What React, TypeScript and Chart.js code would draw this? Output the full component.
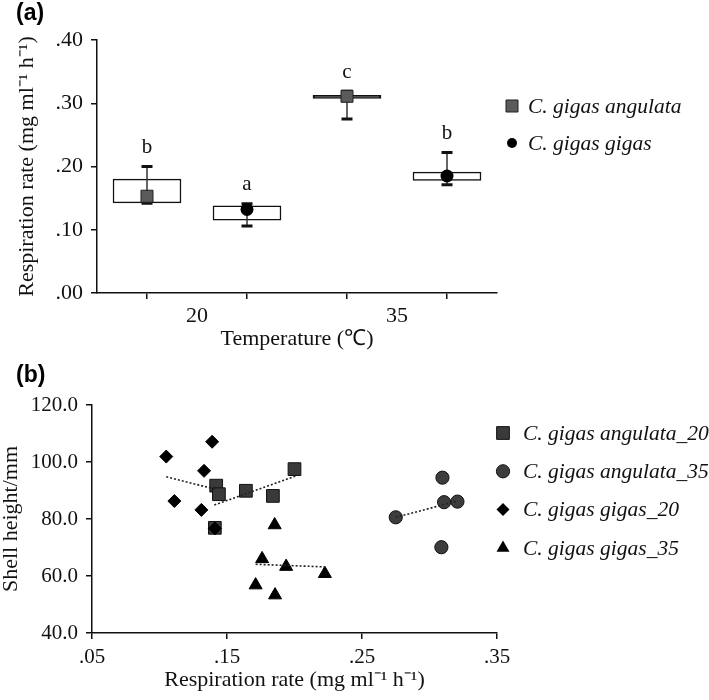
import React, { useEffect, useRef } from 'react';
import { Chart, registerables } from 'chart.js';

Chart.register(...registerables);

const SERIF = "'Liberation Serif', 'Times New Roman', serif";
const SANS = "'Liberation Sans', Arial, sans-serif";

// ---------- Panel (a) data ----------
const temperatures = ['20', '35'];
const speciesA = ['C. gigas angulata', 'C. gigas gigas'];
// order of groups: angulata@20, gigas@20, angulata@35, gigas@35
const boxLow = [0.1425, 0.115, 0.3076, 0.178];
const boxHigh = [0.18, 0.138, 0.3124, 0.191];
const centerVal = [0.153, 0.132, 0.311, 0.185];
const whiskerMin = [0.142, 0.106, 0.275, 0.171];
const whiskerMax = [0.2, 0.141, 0.319, 0.222];
const sigLetters = ['b', 'a', 'c', 'b'];
const yTicksA = [0, 0.1, 0.2, 0.3, 0.4];

// ---------- Panel (b) data ----------
const seriesB = ['C. gigas angulata_20', 'C. gigas angulata_35', 'C. gigas gigas_20', 'C. gigas gigas_35'];
const ang20X = [0.142, 0.144, 0.164, 0.184, 0.2, 0.141];
const ang20Y = [91.7, 88.7, 89.9, 88.1, 97.5, 76.9];
const ang35X = [0.275, 0.3096, 0.3108, 0.3207, 0.3088];
const ang35Y = [80.6, 94.5, 85.9, 86.1, 70.1];
const gig20X = [0.105, 0.139, 0.133, 0.111, 0.131, 0.141];
const gig20Y = [101.9, 107.1, 96.9, 86.3, 83.2, 76.7];
const gig35X = [0.1853, 0.176, 0.1938, 0.2225, 0.1712, 0.1856];
const gig35Y = [77.9, 66.0, 63.3, 60.8, 56.8, 53.3];
// dotted fitted lines, end points
const fitAng20X = [0.1406, 0.201];
const fitAng20Y = [84.9, 95.1];
const fitAng35X = [0.275, 0.3207];
const fitAng35Y = [80.6, 86.3];
const fitGig20X = [0.105, 0.141];
const fitGig20Y = [94.8, 90.5];
const fitGig35X = [0.1712, 0.2225];
const fitGig35Y = [64.1, 63.2];
const xTicksB = [0.05, 0.15, 0.25, 0.35];
const yTicksB = [40, 60, 80, 100, 120];

const RESP_TITLE = 'Respiration rate (mg ml\u207B\u00B9 h\u207B\u00B9)';
const TICK_FONT = 21;
const TITLE_FONT = 22;

const zip = (xs: number[], ys: number[]) => xs.map((x, i) => ({ x, y: ys[i] }));

function drawMarker(ctx: CanvasRenderingContext2D, style: string, x: number, y: number, r: number, fill: string, stroke: string, lw: number) {
  ctx.beginPath();
  if (style === 'rect') {
    const s = r * Math.SQRT1_2;
    ctx.rect(x - s, y - s, 2 * s, 2 * s);
  } else if (style === 'circle') {
    ctx.arc(x, y, r, 0, Math.PI * 2);
  } else if (style === 'rectRot') {
    ctx.moveTo(x - r, y);
    ctx.lineTo(x, y - r);
    ctx.lineTo(x + r, y);
    ctx.lineTo(x, y + r);
    ctx.closePath();
  } else if (style === 'triangle') {
    const h = r * Math.sin(Math.PI / 3);
    ctx.moveTo(x, y - r);
    ctx.lineTo(x + h, y + r / 2);
    ctx.lineTo(x - h, y + r / 2);
    ctx.closePath();
  }
  ctx.fillStyle = fill;
  ctx.fill();
  if (lw > 0) {
    ctx.strokeStyle = stroke;
    ctx.lineWidth = lw;
    ctx.stroke();
  }
}

function legendPlugin(x0: number, textX: number, y0: number, dy: number) {
  return {
    id: 'customLegend',
    afterDraw(chart: any) {
      const ctx: CanvasRenderingContext2D = chart.ctx;
      const items = chart.data.datasets.filter((d: any) => d.legend);
      ctx.save();
      items.forEach((d: any, i: number) => {
        const y = y0 + i * dy;
        drawMarker(ctx, d.pointStyle, x0, y, d.legendRadius ?? d.pointRadius, d.backgroundColor, d.borderColor, d.borderWidth);
        ctx.fillStyle = '#111';
        ctx.font = `italic 21.5px ${SERIF}`;
        ctx.textAlign = 'left';
        ctx.textBaseline = 'middle';
        ctx.fillText(d.label, textX, y + 1);
      });
      ctx.restore();
    },
  };
}

function panelLabel(text: string, x: number, y: number) {
  return {
    id: 'panelLabel',
    afterDraw(chart: any) {
      const ctx: CanvasRenderingContext2D = chart.ctx;
      ctx.save();
      ctx.fillStyle = '#000';
      ctx.font = `bold 23px ${SANS}`;
      ctx.textAlign = 'left';
      ctx.textBaseline = 'middle';
      ctx.fillText(text, x, y);
      ctx.restore();
    },
  };
}

const fmt2 = (v: number) => v.toFixed(2).replace(/^0/, '');

function axisBase(extra: any) {
  return {
    type: 'linear',
    offset: false,
    grid: { drawOnChartArea: false, drawTicks: true, tickLength: 6, color: '#111', lineWidth: 1.5 },
    border: { display: true, color: '#111', width: 1.5 },
    ...extra,
  };
}

function configA(): any {
  const positions = temperatures.flatMap((_, ti) => speciesA.map((__, si) => ti * 2 + si + 0.5));
  const tickLabel: Record<number, string> = {};
  temperatures.forEach((t, ti) => { tickLabel[ti * 2 + 1] = t; });
  const xTickVals = Array.from({ length: temperatures.length * speciesA.length + 1 }, (_, i) => i);

  const whiskers = {
    id: 'whiskers',
    afterDatasetDraw(chart: any, args: any) {
      if (args.meta.type !== 'bar') return;
      const { ctx, scales: { x, y } } = chart;
      ctx.save();
      positions.forEach((p, i) => {
        const px = x.getPixelForValue(p);
        const yMin = y.getPixelForValue(whiskerMin[i]);
        const yMax = y.getPixelForValue(whiskerMax[i]);
        ctx.strokeStyle = '#333';
        ctx.lineWidth = 1.5;
        ctx.beginPath();
        ctx.moveTo(px, yMin);
        ctx.lineTo(px, yMax);
        ctx.stroke();
        ctx.strokeStyle = '#111';
        ctx.lineWidth = 3;
        ctx.beginPath();
        ctx.moveTo(px - 5.5, yMin);
        ctx.lineTo(px + 5.5, yMin);
        ctx.moveTo(px - 5.5, yMax);
        ctx.lineTo(px + 5.5, yMax);
        ctx.stroke();
      });
      ctx.restore();
    },
    afterDraw(chart: any) {
      const { ctx, scales: { x, y } } = chart;
      ctx.save();
      ctx.fillStyle = '#111';
      ctx.font = `21px ${SERIF}`;
      ctx.textAlign = 'center';
      ctx.textBaseline = 'middle';
      positions.forEach((p, i) => {
        ctx.fillText(sigLetters[i], x.getPixelForValue(p), y.getPixelForValue(whiskerMax[i]) - 19);
      });
      ctx.restore();
    },
  };

  const angIdx = [0, 2];
  const gigIdx = [1, 3];

  return {
    type: 'bar',
    data: {
      datasets: [
        {
          type: 'scatter',
          label: speciesA[0],
          legend: true,
          data: angIdx.map((i) => ({ x: positions[i], y: centerVal[i] })),
          pointStyle: 'rect',
          pointRadius: 8.5,
          legendRadius: 8.5,
          backgroundColor: '#5b5b5b',
          borderColor: '#222',
          borderWidth: 1,
          order: 0,
        },
        {
          type: 'scatter',
          label: speciesA[1],
          legend: true,
          data: gigIdx.map((i) => ({ x: positions[i], y: centerVal[i] })),
          pointStyle: 'circle',
          pointRadius: 6.5,
          legendRadius: 5,
          backgroundColor: '#000',
          borderColor: '#000',
          borderWidth: 0,
          order: 0,
        },
        {
          type: 'bar',
          label: 'box',
          data: positions.map((p, i) => ({ x: p, y: [boxLow[i], boxHigh[i]] })),
          // a box whose quartiles (almost) coincide is drawn as a solid thick line
          backgroundColor: (c: any) => (boxHigh[c.dataIndex] - boxLow[c.dataIndex] < 0.006 ? '#111' : '#fff'),
          borderColor: '#111',
          borderWidth: 1.5,
          borderSkipped: false,
          barThickness: 68,
          order: 1,
        },
      ],
    },
    options: {
      responsive: false,
      animation: false,
      events: [],
      layout: { padding: { left: 0, top: 40, right: 212, bottom: 0 } },
      plugins: { legend: { display: false }, tooltip: { enabled: false } },
      scales: {
        x: axisBase({
          min: 0,
          max: xTickVals[xTickVals.length - 1],
          afterFit: (s: any) => { s.height = 67; },
          afterBuildTicks: (s: any) => { s.ticks = xTickVals.map((v) => ({ value: v })); },
          ticks: {
            autoSkip: false,
            maxRotation: 0,
            padding: 4,
            color: '#111',
            font: { family: SERIF, size: TICK_FONT + 1 },
            callback: (v: number) => tickLabel[v] ?? '',
          },
          title: {
            display: true,
            text: 'Temperature (\u2103)',
            color: '#111',
            font: { family: SERIF, size: TITLE_FONT },
            padding: { top: 0, bottom: 8 },
          },
        }),
        y: axisBase({
          min: yTicksA[0],
          max: yTicksA[yTicksA.length - 1],
          afterFit: (s: any) => { s.width = 97; },
          afterBuildTicks: (s: any) => { s.ticks = yTicksA.map((v) => ({ value: v })); },
          ticks: {
            padding: 8,
            color: '#111',
            font: { family: SERIF, size: TICK_FONT + 1 },
            callback: (v: number) => fmt2(v),
          },
          title: {
            display: true,
            text: RESP_TITLE,
            color: '#111',
            font: { family: SERIF, size: TITLE_FONT },
            padding: { top: 14, bottom: 0 },
          },
        }),
      },
    },
    plugins: [whiskers, legendPlugin(512, 528, 106, 37), panelLabel('(a)', 16, 14)],
  };
}

function configB(): any {
  const pts = { pointBorderWidth: 1, pointHoverRadius: 0 };
  const fit = (xs: number[], ys: number[]) => ({
    type: 'line',
    label: 'fit',
    data: zip(xs, ys),
    borderColor: '#222',
    borderWidth: 1.6,
    borderDash: [2, 2],
    pointRadius: 0,
    fill: false,
    order: 0,
  });
  return {
    type: 'scatter',
    data: {
      datasets: [
        {
          label: seriesB[0], legend: true, data: zip(ang20X, ang20Y),
          pointStyle: 'rect', pointRadius: 9, backgroundColor: '#3a3a3a', borderColor: '#111', borderWidth: 1, order: 3, ...pts,
        },
        {
          label: seriesB[1], legend: true, data: zip(ang35X, ang35Y),
          pointStyle: 'circle', pointRadius: 6.6, backgroundColor: '#3d3d3d', borderColor: '#111', borderWidth: 1, order: 3, ...pts,
        },
        {
          label: seriesB[2], legend: true, data: zip(gig20X, gig20Y),
          pointStyle: 'rectRot', pointRadius: 6.5, backgroundColor: '#000', borderColor: '#000', borderWidth: 0, order: 1, ...pts,
        },
        {
          label: seriesB[3], legend: true, data: zip(gig35X, gig35Y),
          pointStyle: 'triangle', pointRadius: 7.5, backgroundColor: '#000', borderColor: '#000', borderWidth: 0, order: 2, ...pts,
        },
        fit(fitAng20X, fitAng20Y),
        fit(fitAng35X, fitAng35Y),
        fit(fitGig20X, fitGig20Y),
        fit(fitGig35X, fitGig35Y),
      ],
    },
    options: {
      responsive: false,
      animation: false,
      events: [],
      layout: { padding: { left: 0, top: 45, right: 212, bottom: 0 } },
      plugins: { legend: { display: false }, tooltip: { enabled: false } },
      scales: {
        x: axisBase({
          min: xTicksB[0],
          max: xTicksB[xTicksB.length - 1],
          afterFit: (s: any) => { s.height = 67; },
          afterBuildTicks: (s: any) => { s.ticks = xTicksB.map((v) => ({ value: v })); },
          ticks: {
            autoSkip: false,
            maxRotation: 0,
            padding: 6,
            color: '#111',
            font: { family: SERIF, size: TICK_FONT },
            callback: (v: number) => fmt2(v),
          },
          title: {
            display: true,
            text: RESP_TITLE,
            color: '#111',
            font: { family: SERIF, size: TITLE_FONT },
            padding: { top: 0, bottom: 7 },
          },
        }),
        y: axisBase({
          min: yTicksB[0],
          max: yTicksB[yTicksB.length - 1],
          afterFit: (s: any) => { s.width = 92; },
          afterBuildTicks: (s: any) => { s.ticks = yTicksB.map((v) => ({ value: v })); },
          ticks: {
            padding: 8,
            color: '#111',
            font: { family: SERIF, size: TICK_FONT },
            callback: (v: number) => v.toFixed(1),
          },
          title: {
            display: true,
            text: 'Shell height/mm',
            color: '#111',
            font: { family: SERIF, size: TITLE_FONT },
            padding: { top: -2, bottom: 0 },
          },
        }),
      },
    },
    plugins: [legendPlugin(503, 523, 73, 38.3), panelLabel('(b)', 16, 16)],
  };
}

export default function App() {
  const refA = useRef<HTMLCanvasElement>(null);
  const refB = useRef<HTMLCanvasElement>(null);
  useEffect(() => {
    const a = new Chart(refA.current as HTMLCanvasElement, configA());
    const b = new Chart(refB.current as HTMLCanvasElement, configB());
    return () => {
      a.destroy();
      b.destroy();
    };
  }, []);
  return (
    <div style={{ position: 'absolute', left: 0, top: 0, width: 709, height: 700, background: '#fff' }}>
      <canvas ref={refA} width={709} height={360} style={{ position: 'absolute', left: 0, top: 0, display: 'block' }} />
      <canvas ref={refB} width={709} height={340} style={{ position: 'absolute', left: 0, top: 360, display: 'block' }} />
    </div>
  );
}
